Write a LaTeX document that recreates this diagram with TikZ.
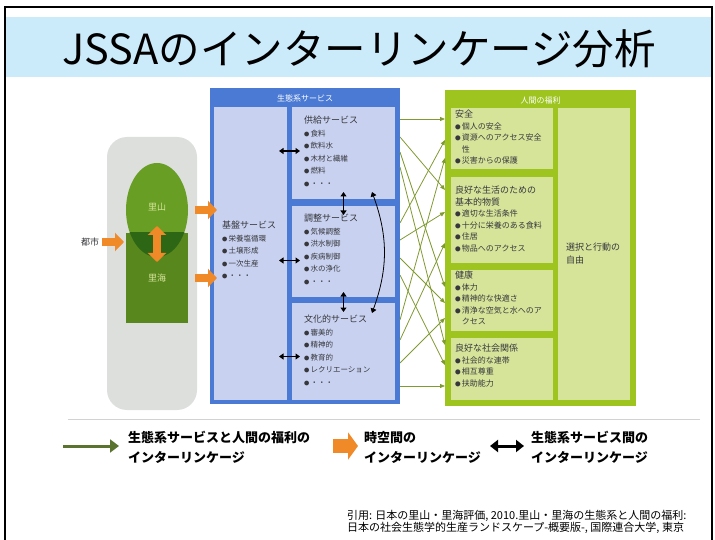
\documentclass[tikz,border=0pt]{standalone}
\usepackage{fontspec}
\setmainfont{Noto Sans CJK JP}
\usetikzlibrary{arrows.meta,shapes.geometric}

\definecolor{titlebg}{RGB}{204,235,250}
\definecolor{frameblue}{RGB}{74,122,212}
\definecolor{paleblue}{RGB}{200,210,240}
\definecolor{framegreen}{RGB}{157,196,31}
\definecolor{palegreen}{RGB}{214,228,154}
\definecolor{satoyama}{RGB}{104,158,36}
\definecolor{satoumi}{RGB}{88,135,30}
\definecolor{overlap}{RGB}{45,102,20}
\definecolor{arrorange}{RGB}{240,137,40}
\definecolor{linkgreen}{RGB}{128,154,50}
\definecolor{legendgreen}{RGB}{90,116,48}
\definecolor{greybox}{RGB}{221,223,221}
\definecolor{textgray}{RGB}{55,55,60}

\newcommand{\itm}{\scalebox{0.7}{●}\,}

\begin{document}
\begin{tikzpicture}[x=1pt,y=-1pt]
\tikzstyle{every node}+=[inner sep=0pt, outer sep=0pt]
\tikzstyle{pane}=[rectangle, fill=paleblue]
\tikzstyle{gpane}=[rectangle, fill=palegreen]
\tikzstyle{list}=[anchor=north west, align=left, text=textgray, font=\fontsize{7.5}{12.6}\selectfont]
\tikzstyle{glist}=[anchor=north west, align=left, text=textgray, font=\fontsize{8}{11.6}\selectfont]
\tikzstyle{hdr}=[white, font=\fontsize{8}{10}\selectfont]
\tikzstyle{link}=[linkgreen, line width=0.8pt, -{Triangle[length=5pt,width=4pt]}]
\tikzstyle{dbl}=[line width=1.1pt, {Triangle[length=4.5pt,width=6pt]}-{Triangle[length=4.5pt,width=6pt]}]
\tikzstyle{orng}=[arrorange, line width=8pt, -{Triangle[length=9pt,width=18pt]}]
\tikzstyle{legend}=[anchor=west, align=left, font=\fontsize{13}{20}\selectfont\bfseries]
\useasboundingbox (0,0) rectangle (715,540);
\draw [line width=1.5pt] (5,545) -- (5,7) -- (712,7) -- (712,545);
\fill [titlebg] (6,17) rectangle (711,77);
\node [font=\fontsize{41.5}{46}\selectfont] (title) at (359,49) {JSSAのインターリンケージ分析};
\draw [gray!35, line width=0.8pt] (68,419) -- (700,419);
\node [fill=greybox, rounded corners=20pt, minimum width=90, minimum height=273] (area) at (152,273.5) {};
\node [ellipse, fill=satoyama, minimum width=62, minimum height=94] (yama) at (157,210) {};
\node [fill=satoumi, minimum width=62, minimum height=90, text=palegreen, font=\fontsize{9}{10}\selectfont] (umi) at (157,278) {里海};
\begin{scope}
\clip (umi.north west) rectangle (umi.south east);
\fill [overlap] (157,210) ellipse [x radius=31, y radius=47];
\end{scope}
\node [text=palegreen, font=\fontsize{9}{10}\selectfont] at (157,207) {里山};
\node [text=textgray, font=\fontsize{9}{10}\selectfont] (toshi) at (90,242) {都市};
\draw [orng] ([xshift=3pt]toshi.east) -- ([xshift=-2pt]umi.west |- toshi.east);
\draw [orng, {Triangle[length=9pt,width=18pt]}-{Triangle[length=9pt,width=18pt]}] ([yshift=7pt]umi.north) -- ([yshift=-29pt]umi.north);
\node [rectangle, fill=frameblue, minimum width=190, minimum height=316] (bframe) at (305,246) {};
\node [hdr] at ([yshift=-10pt]bframe.north) {生態系サービス};
\node [pane, minimum width=73, minimum height=293] (kiban) at (250.5,253.5) {};
\node [pane, minimum width=103, minimum height=92] (kyokyu) at (343.5,153) {};
\node [pane, minimum width=103, minimum height=91] (chosei) at (343.5,251.5) {};
\node [pane, minimum width=103, minimum height=97] (bunka) at (343.5,351.5) {};
\draw [orng] ([xshift=-2pt]area.east |- yama) -- ([xshift=3pt]kiban.west |- yama);
\draw [orng] ([xshift=-2pt]area.east |- umi) -- ([xshift=3pt]kiban.west |- umi);
\node [list] at (222,221) {{\fontsize{9}{12.6}\selectfont 基盤サービス}\\ \itm 栄養塩循環\\ \itm 土壌形成\\ \itm 一次生産\\ \itm ・・・};
\node [list] at (304,116) {{\fontsize{9}{12.6}\selectfont 供給サービス}\\ \itm 食料\\ \itm 飲料水\\ \itm 木材と繊維\\ \itm 燃料\\ \itm ・・・};
\node [list] at (304,214) {{\fontsize{9}{12.6}\selectfont 調整サービス}\\ \itm 気候調整\\ \itm 洪水制御\\ \itm 疾病制御\\ \itm 水の浄化\\ \itm ・・・};
\node [list] at (304,315) {{\fontsize{9}{12.6}\selectfont 文化的サービス}\\ \itm 審美的\\ \itm 精神的\\ \itm 教育的\\ \itm レクリエーション\\ \itm ・・・};
\draw [dbl] ([xshift=-8pt,yshift=2pt]kiban.east |- kyokyu.west) -- ([xshift=8pt,yshift=2pt]kyokyu.west);
\draw [dbl] ([xshift=-8pt,yshift=-9pt]kiban.east |- chosei.west) -- ([xshift=8pt,yshift=-9pt]chosei.west);
\draw [dbl] ([xshift=-8pt,yshift=-5pt]kiban.east |- bunka.west) -- ([xshift=8pt,yshift=-5pt]bunka.west);
\draw [dbl] ([yshift=7pt]kyokyu.south) -- ([yshift=-9pt]chosei.north);
\draw [dbl] ([yshift=5pt]chosei.south) -- ([yshift=-9pt]bunka.north);
\draw [dbl, line width=0.8pt] ([shift={(-23,-7)}]kyokyu.south east) to [bend left=20] ([shift={(-23,10)}]bunka.north east);
\node [rectangle, fill=framegreen, minimum width=191, minimum height=316] (gframe) at (540.5,248) {};
\node [hdr] at ([yshift=-10pt]gframe.north) {人間の福利};
\node [gpane, minimum width=102, minimum height=61] (anzen) at (502,138.5) {};
\node [gpane, minimum width=102, minimum height=86] (seikatsu) at (502,220) {};
\node [gpane, minimum width=102, minimum height=61] (kenko) at (502,300.5) {};
\node [gpane, minimum width=102, minimum height=62] (shakai) at (502,369) {};
\node [gpane, minimum width=72, minimum height=292] (jiyu) at (594,254) {};
\node [glist] at (455,110) {{\fontsize{9}{11.6}\selectfont 安全}\\ \itm 個人の安全\\ \itm 資源へのアクセス安全\\ \phantom{\itm}性\\ \itm 災害からの保護};
\node [glist] at (455,186) {{\fontsize{9}{11.6}\selectfont 良好な生活のための}\\ {\fontsize{9}{11.6}\selectfont 基本的物質}\\ \itm 適切な生活条件\\ \itm 十分に栄養のある食料\\ \itm 住居\\ \itm 物品へのアクセス};
\node [glist] at (455,271) {{\fontsize{9}{11.6}\selectfont 健康}\\ \itm 体力\\ \itm 精神的な快適さ\\ \itm 清浄な空気と水へのア\\ \phantom{\itm}クセス};
\node [glist] at (455,344) {{\fontsize{9}{12.6}\selectfont 良好な社会関係}\\ \itm 社会的な連帯\\ \itm 相互尊重\\ \itm 扶助能力};
\node [glist, font=\fontsize{9}{13}\selectfont] at (566,243) {選択と行動の\\自由};
\foreach \src/\sy/\dst/\dy in {kyokyu/12/anzen/11, kyokyu/30/seikatsu/13, kyokyu/45/kenko/17, kyokyu/60/shakai/7,
  chosei/17/anzen/32, chosei/34/seikatsu/35, chosei/52/kenko/33, chosei/69/shakai/27,
  bunka/17/anzen/50, bunka/37/seikatsu/66, bunka/60/kenko/48, bunka/83/shakai/48}
  \draw [link] ([shift={(5,\sy)}]\src.north east) -- ([shift={(-6,\dy)}]\dst.north west);
\coordinate (lga) at (63,446);
\coordinate (lgb) at (119,446);
\draw [legendgreen, line width=3pt, -{Triangle[length=9pt,width=13pt]}] (lga) -- (lgb);
\node [legend] (lg1) at (128,447) {生態系サービスと人間の福利の\\インターリンケージ};
\coordinate (lgc) at (333,446);
\coordinate (lgd) at (358,446);
\draw [arrorange, line width=14pt, -{Triangle[length=10pt,width=27pt]}] (lgc) -- (lgd);
\node [legend] (lg2) at (364,447) {時空間の\\インターリンケージ};
\coordinate (lge) at (490,446);
\coordinate (lgf) at (524,446);
\draw [line width=3pt, {Triangle[length=8pt,width=12pt]}-{Triangle[length=8pt,width=12pt]}] (lge) -- (lgf);
\node [legend] (lg3) at (531,447) {生態系サービス間の\\インターリンケージ};
\node [anchor=north west, align=left, font=\fontsize{11}{12.5}\selectfont] (cite) at (347,510) {引用: 日本の里山・里海評価, 2010.里山・里海の生態系と人間の福利:\\日本の社会生態学的生産ランドスケープ-概要版-, 国際連合大学, 東京};
\end{tikzpicture}
\end{document}
